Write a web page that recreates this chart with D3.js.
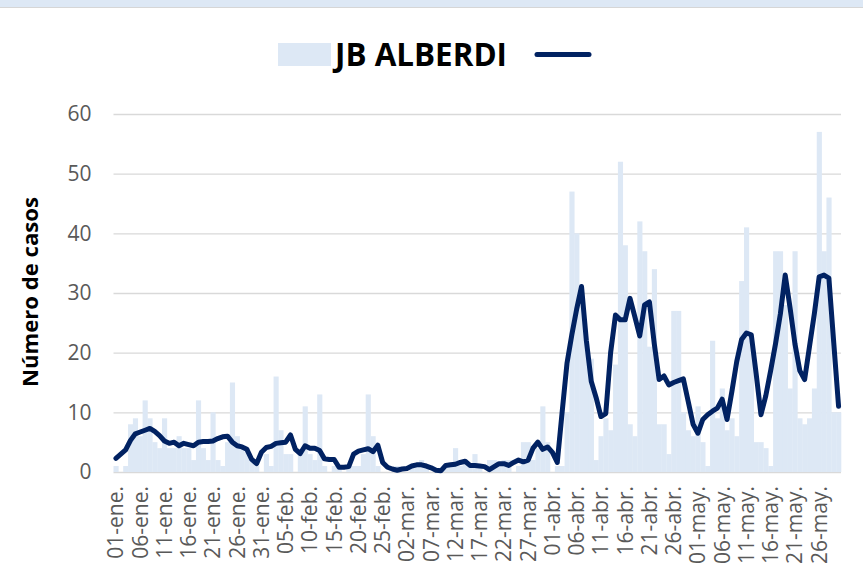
<!DOCTYPE html>
<html>
<head>
<meta charset="utf-8">
<script src="https://cdn.jsdelivr.net/npm/d3@7"></script>
<style>
  body { margin: 0; background: #ffffff; }
  svg { display: block; }
</style>
</head>
<body>
<script>
// Daily cases and smoothed trend, JB Alberdi, 01-ene to 30-may
const seriesName = "JB ALBERDI";
const yTitle = "Número de casos";

const cases = [
  1, 0, 1, 8, 9, 6, 12, 9, 5, 4,
  9, 4, 4, 6, 4, 4, 2, 12, 4, 2,
  10, 2, 1, 5, 15, 6, 4, 4, 2, 1,
  0, 3, 1, 16, 7, 3, 3, 0, 3, 11,
  3, 2, 13, 1, 0, 1, 1, 0, 1, 1,
  1, 3, 13, 6, 1, 0, 0, 0, 1, 0,
  0, 1, 1, 2, 1, 0, 0, 0, 1, 1,
  4, 1, 2, 1, 3, 1, 0, 2, 2, 1,
  2, 2, 0, 1, 5, 5, 2, 4, 11, 5,
  0, 1, 1, 10, 47, 40, 28, 22, 19, 2,
  6, 9, 7, 18, 52, 38, 8, 6, 42, 37,
  21, 34, 8, 8, 3, 27, 27, 10, 7, 6,
  11, 5, 1, 22, 9, 14, 7, 9, 6, 32,
  41, 22, 5, 5, 4, 1, 37, 37, 28, 14,
  37, 9, 8, 9, 14, 57, 37, 46, 10, 10
];

const trend = [
  2.3, 3.0, 3.7, 5.3, 6.4, 6.7, 7.0, 7.3, 6.8, 6.1,
  5.2, 4.8, 5.0, 4.4, 4.8, 4.6, 4.4, 5.0, 5.1, 5.1,
  5.2, 5.6, 5.9, 6.0, 5.0, 4.4, 4.2, 3.8, 2.1, 1.4,
  3.3, 4.1, 4.3, 4.8, 4.9, 5.0, 6.2, 3.8, 3.1, 4.4,
  4.0, 4.0, 3.6, 2.2, 2.1, 2.1, 0.8, 0.8, 0.9, 3.0,
  3.5, 3.7, 3.9, 3.4, 4.5, 1.6, 0.8, 0.5, 0.3, 0.5,
  0.6, 1.0, 1.2, 1.2, 1.0, 0.7, 0.3, 0.2, 1.1, 1.2,
  1.3, 1.6, 1.8, 1.1, 1.1, 1.0, 0.9, 0.4, 0.9, 1.4,
  1.4, 1.1, 1.6, 2.0, 1.7, 2.0, 4.0, 5.0, 3.8, 4.2,
  3.3, 1.6, 10.0, 18.2, 23.0, 27.3, 31.1, 22.0, 15.2, 12.5,
  9.3, 9.8, 20.0, 26.3, 25.5, 25.5, 29.1, 26.0, 22.8, 28.0,
  28.5, 21.5, 15.5, 16.1, 14.6, 15.0, 15.3, 15.6, 11.8, 8.0,
  6.5, 8.8, 9.6, 10.2, 10.7, 12.2, 8.8, 13.5, 18.5, 22.2,
  23.3, 23.0, 16.5, 9.6, 12.8, 17.0, 21.5, 26.5, 33.0, 27.5,
  21.5, 17.0, 15.5, 21.0, 26.5, 32.7, 33.0, 32.5, 21.7, 11.0
];

const yTicks = [0, 10, 20, 30, 40, 50, 60];
const monthNames = ["ene.", "feb.", "mar.", "abr.", "may."];
const firstDay = new Date(Date.UTC(2021, 0, 1));
const tickEvery = 5;

const W = 863, H = 577;
const plot = { left: 113.5, right: 841, top: 114, bottom: 472 };
const barColor = "#dde8f5";
const lineColor = "#012262";
const textGrey = "#595959";
const font = "'Open Sans', 'DejaVu Sans', sans-serif";

const svg = d3.select("body").append("svg")
  .attr("width", W).attr("height", H);

// thin header band across the top
svg.append("rect").attr("x", 0).attr("y", 0).attr("width", W).attr("height", 7)
  .attr("fill", barColor);
svg.append("line").attr("x1", 0).attr("x2", W).attr("y1", 7.5).attr("y2", 7.5)
  .attr("stroke", "#d6d6d6").attr("stroke-width", 1);

// categories: one per day
const days = d3.utcDay.range(firstDay, d3.utcDay.offset(firstDay, cases.length));
const dayNum = d3.utcFormat("%d");
const labels = days.map(d => dayNum(d) + "-" + monthNames[d.getUTCMonth()]);

const x = d3.scaleBand().domain(labels).range([plot.left, plot.right]).padding(0);
const y = d3.scaleLinear().domain([0, 60]).range([plot.bottom, plot.top]);

// gridlines and y tick labels
const yAxis = svg.append("g")
  .attr("transform", `translate(${plot.left},0)`)
  .call(d3.axisLeft(y).tickValues(yTicks).tickSize(-(plot.right - plot.left)).tickPadding(22));
yAxis.select(".domain").remove();
yAxis.selectAll(".tick line").attr("stroke", "#d9d9d9").attr("stroke-width", 1.4);
yAxis.selectAll(".tick text")
  .attr("fill", textGrey).style("font-family", font).style("font-size", "21px");

// daily bars
svg.append("g").selectAll("rect")
  .data(cases)
  .join("rect")
  .attr("x", (d, i) => x(labels[i]))
  .attr("y", d => y(d))
  .attr("width", x.bandwidth() + 0.3)
  .attr("height", d => y(0) - y(d))
  .attr("fill", barColor);

// trend line
const line = d3.line()
  .x((d, i) => x(labels[i]) + x.bandwidth() / 2)
  .y(d => y(d));
svg.append("path")
  .datum(trend)
  .attr("d", line)
  .attr("fill", "none")
  .attr("stroke", lineColor)
  .attr("stroke-width", 5)
  .attr("stroke-linejoin", "round")
  .attr("stroke-linecap", "round");

// x axis labels, rotated
const xAxis = svg.append("g")
  .attr("transform", `translate(0,${plot.bottom})`)
  .call(d3.axisBottom(x).tickValues(labels.filter((d, i) => i % tickEvery === 0)).tickSize(0));
xAxis.select(".domain").remove();
xAxis.selectAll(".tick text")
  .attr("transform", "rotate(-90)")
  .attr("text-anchor", "end")
  .attr("x", -14)
  .attr("y", 0)
  .attr("dy", "0.36em")
  .attr("fill", textGrey)
  .style("font-family", font)
  .style("font-size", "21px");

// y axis title
svg.append("text")
  .attr("transform", "translate(38,292) rotate(-90)")
  .attr("text-anchor", "middle")
  .attr("textLength", 190)
  .attr("lengthAdjust", "spacingAndGlyphs")
  .style("font-family", font).style("font-size", "21px").style("font-weight", "bold")
  .attr("fill", "#000")
  .text(yTitle);

// legend: bar swatch, series name, line swatch
const legend = svg.append("g");
legend.append("rect").attr("x", 278).attr("y", 43).attr("width", 53).attr("height", 23)
  .attr("fill", barColor);
legend.append("text")
  .attr("x", 335).attr("y", 65.5)
  .attr("textLength", 172)
  .attr("lengthAdjust", "spacingAndGlyphs")
  .style("font-family", font).style("font-size", "32px").style("font-weight", "bold")
  .attr("fill", "#000")
  .text(seriesName);
legend.append("line").attr("x1", 537).attr("x2", 589).attr("y1", 54.5).attr("y2", 54.5)
  .attr("stroke", lineColor).attr("stroke-width", 5).attr("stroke-linecap", "round");
</script>
</body>
</html>
